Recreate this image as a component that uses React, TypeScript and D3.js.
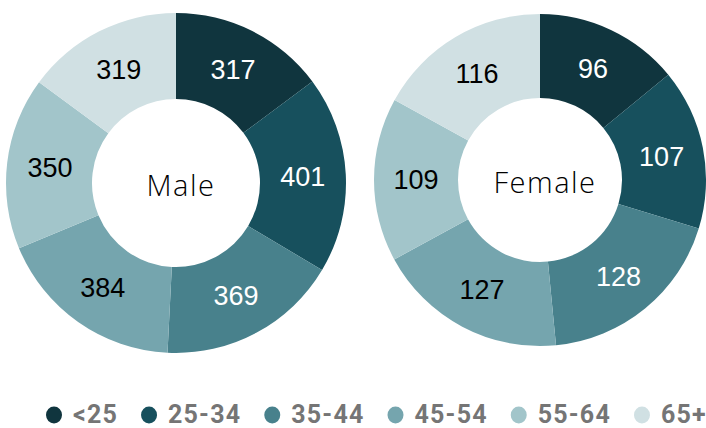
import { useEffect, useRef } from "react";
import * as d3 from "d3";

const ageGroups = ["<25", "25-34", "35-44", "45-54", "55-64", "65+"];
const maleValues = [317, 401, 369, 384, 350, 319];
const femaleValues = [96, 107, 128, 127, 109, 116];
const groupColors = ["#10353e", "#17505d", "#48818c", "#75a5ae", "#a2c5ca", "#d0e0e3"];
const labelColors = ["#ffffff", "#ffffff", "#ffffff", "#000000", "#000000", "#000000"];

const donuts = [
  { name: "Male", values: maleValues, cx: 176, cy: 183, outer: 170, inner: 84 },
  { name: "Female", values: femaleValues, cx: 540, cy: 180, outer: 166, inner: 82 },
];

export default function App() {
  const svgRef = useRef<SVGSVGElement | null>(null);

  useEffect(() => {
    if (!svgRef.current) return;
    const svg = d3.select(svgRef.current);
    svg.selectAll("*").remove();

    const color = d3.scaleOrdinal<string, string>().domain(ageGroups).range(groupColors);
    const textColor = d3.scaleOrdinal<string, string>().domain(ageGroups).range(labelColors);

    const pie = d3
      .pie<number>()
      .sort(null)
      .value((d) => d);

    donuts.forEach((donut) => {
      const g = svg.append("g").attr("transform", `translate(${donut.cx},${donut.cy})`);
      const arc = d3
        .arc<d3.PieArcDatum<number>>()
        .innerRadius(donut.inner)
        .outerRadius(donut.outer);

      const arcs = pie(donut.values);

      g.selectAll("path")
        .data(arcs)
        .enter()
        .append("path")
        .attr("d", arc)
        .attr("fill", (d) => color(ageGroups[d.index]));

      // value labels
      g.selectAll("text.value")
        .data(arcs)
        .enter()
        .append("text")
        .attr("class", "value")
        .attr("transform", (d) => `translate(${arc.centroid(d)})`)
        .attr("dy", "0.36em")
        .attr("text-anchor", "middle")
        .style("font-family", "'Liberation Sans', Arial, sans-serif")
        .style("font-size", "27px")
        .attr("fill", (d) => textColor(ageGroups[d.index]))
        .text((d) => d.data);

      // center label
      g.append("text")
        .attr("x", 5)
        .attr("y", 13)
        .attr("text-anchor", "middle")
        .style("font-family", "'Open Sans', Lato, sans-serif")
        .style("font-weight", "300")
        .style("font-size", "29px")
        .style("letter-spacing", "1.5px")
        .attr("fill", "#000")
        .text(donut.name);
    });

    // legend, laid out item after item
    const legend = svg.append("g").attr("transform", "translate(0,415)");
    let x = 54;
    ageGroups.forEach((grp) => {
      legend
        .append("ellipse")
        .attr("cx", x)
        .attr("cy", 0)
        .attr("rx", 8)
        .attr("ry", 8.5)
        .attr("fill", color(grp));
      const t = legend
        .append("text")
        .attr("x", x + 19)
        .attr("y", 8)
        .style("font-family", "Roboto, sans-serif")
        .style("font-weight", "700")
        .style("font-size", "25px")
        .style("letter-spacing", "1.2px")
        .attr("fill", "#757575")
        .text(grp);
      const w = (t.node() as SVGTextElement).getComputedTextLength();
      x = x + 19 + w + 31;
    });
  }, []);

  return (
    <svg
      ref={svgRef}
      width={706}
      height={428}
      style={{ position: "absolute", left: 0, top: 0, background: "#fff" }}
    />
  );
}
